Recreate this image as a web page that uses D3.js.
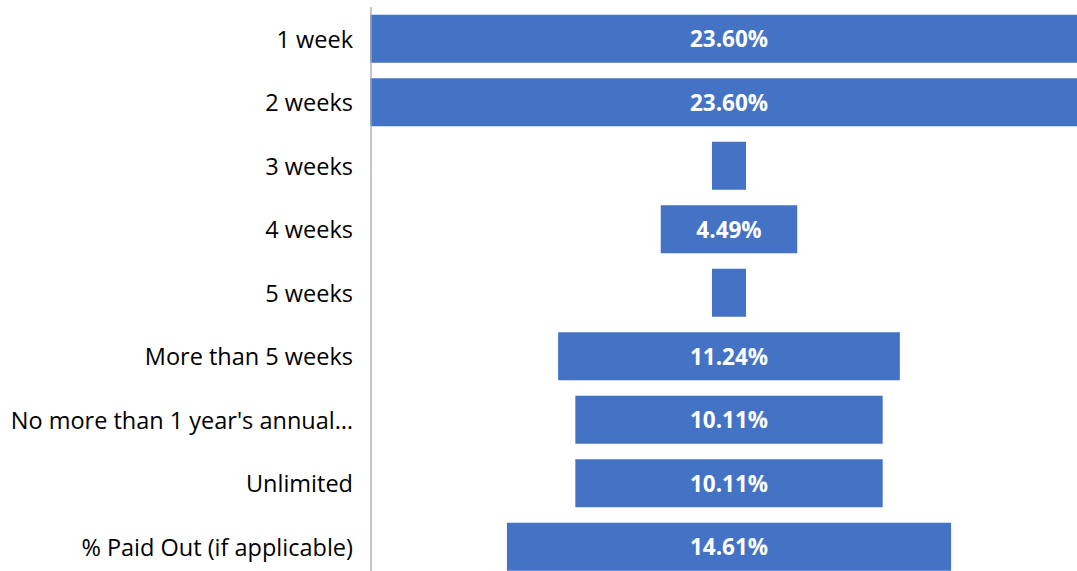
<!DOCTYPE html>
<html lang="en">
<head>
    <meta charset="UTF-8">
    <title>Funnel</title>
    <script src="https://cdn.jsdelivr.net/npm/d3@7"></script>
    <style>
        body { margin: 0; background: #fff; }
    </style>
</head>
<body>
    <div id="my_dataviz"></div>
    <script>
        // categories and values
        var categories = ["1 week", "2 weeks", "3 weeks", "4 weeks", "5 weeks",
            "More than 5 weeks", "No more than 1 year's annual\u2026", "Unlimited",
            "% Paid Out (if applicable)"];
        var values = [23.60, 23.60, 1.12, 4.49, 1.12, 11.24, 10.11, 10.11, 14.61];

        var W = 1077, H = 571;
        var axisX = 371, center = 729;

        var svg = d3.select("#my_dataviz")
            .append("svg")
            .attr("width", W)
            .attr("height", H);

        var y = d3.scaleBand()
            .domain(categories)
            .range([7, 578.5])
            .paddingInner(0.244)
            .paddingOuter(0.122);

        // half-width scale, centred on the funnel axis
        var half = d3.scaleLinear()
            .domain([0, 1])
            .range([0, 15.2]);

        svg.selectAll("rect.bar")
            .data(values)
            .enter()
            .append("rect")
            .attr("class", "bar")
            .attr("x", function (d) { return center - half(d); })
            .attr("y", function (d, i) { return y(categories[i]); })
            .attr("width", function (d) { return 2 * half(d); })
            .attr("height", y.bandwidth())
            .attr("fill", "#4472C4");

        // left axis (line only)
        var axis = svg.append("g")
            .attr("transform", "translate(" + axisX + ",0)")
            .call(d3.axisLeft(y).tickSize(0).tickPadding(18));
        axis.select(".domain")
            .attr("stroke", "#a6a6a6")
            .attr("stroke-width", 1.3)
            .attr("d", "M0,7V571");
        axis.selectAll("text")
            .style("font-family", "'Open Sans', sans-serif")
            .style("font-size", "23.5px")
            .attr("dy", "0.38em")
            .attr("fill", "#000");

        // data labels, only where they fit
        svg.selectAll("text.lbl")
            .data(values)
            .enter()
            .append("text")
            .attr("class", "lbl")
            .attr("x", center)
            .attr("y", function (d, i) { return y(categories[i]) + y.bandwidth() / 2; })
            .attr("dy", "0.38em")
            .attr("text-anchor", "middle")
            .style("font-family", "'Open Sans', sans-serif")
            .style("font-size", "22.5px")
            .style("font-weight", "bold")
            .attr("fill", "#fff")
            .text(function (d) { return d.toFixed(2) + "%"; })
            .each(function (d) {
                if (this.getComputedTextLength() > 2 * half(d) - 4) d3.select(this).remove();
            });
    </script>
</body>
</html>
